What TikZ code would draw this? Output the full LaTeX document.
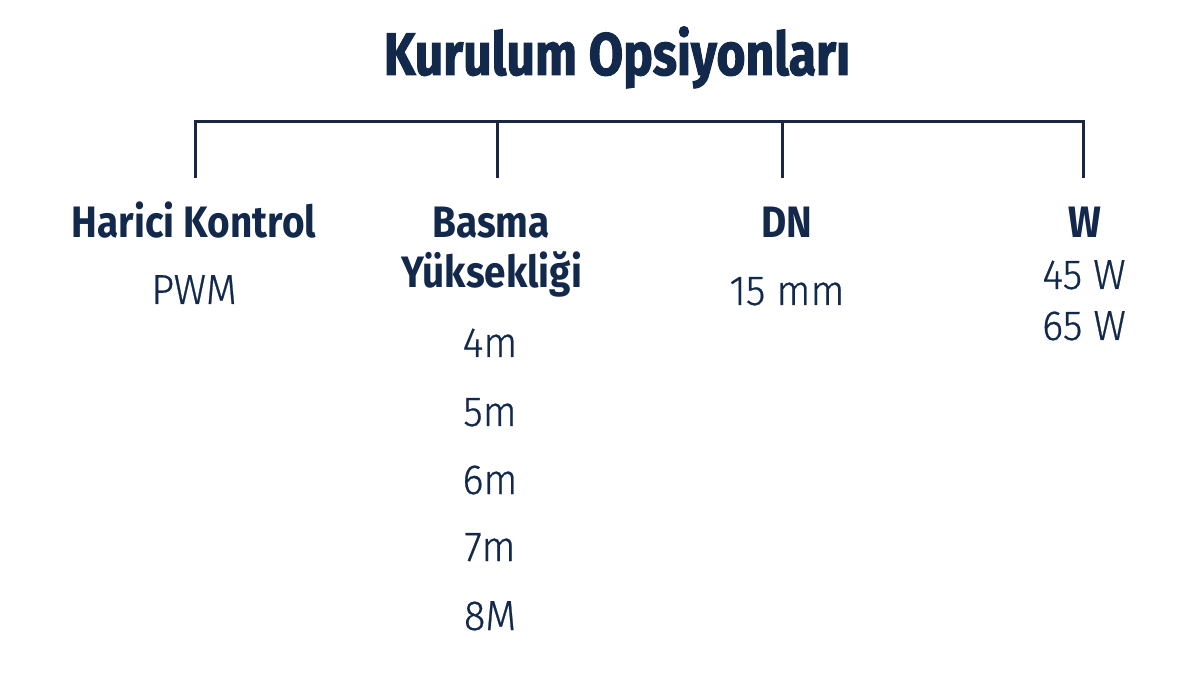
\documentclass[tikz,border=0pt]{standalone}
\usepackage{fontspec}
\setmainfont[FakeStretch=0.88]{Fira Sans}
\newfontfamily\titlefont[FakeStretch=0.83,FakeBold=1.6]{Fira Sans}
\newfontfamily\valfont[FakeStretch=0.95,FakeBold=0.6]{Fira Sans Light}
\definecolor{navy}{HTML}{13294B}
\definecolor{linec}{HTML}{1B2642}
\begin{document}
\begin{tikzpicture}[x=1pt,y=-1pt,
  title/.style={anchor=base,inner sep=0pt,text=navy,font=\titlefont\fontsize{60}{70}\selectfont\bfseries},
  head/.style={anchor=base,inner sep=0pt,text=navy,font=\fontsize{44}{50}\selectfont\bfseries},
  val/.style={anchor=base,inner sep=0pt,text=navy,font=\valfont\fontsize{42}{48}\selectfont},
  conn/.style={draw=linec,line width=3pt}]
\fill[white] (0,0) rectangle (1200,700);
\useasboundingbox (0,0) rectangle (1200,700);
\node[title] (t) at (617,75) {Kurulum Opsiyonları};
\coordinate (j1) at (195,122);
\coordinate (j2) at (497,122);
\coordinate (j3) at (782,122);
\coordinate (j4) at (1083,122);
\coordinate (e1) at (195,178);
\coordinate (e2) at (497,178);
\coordinate (e3) at (782,178);
\coordinate (e4) at (1083,178);
\draw[conn,line cap=rect] (j1) -- (j4);
\draw[conn] (j1) -- (e1);
\draw[conn] (j2) -- (e2);
\draw[conn] (j3) -- (e3);
\draw[conn] (j4) -- (e4);
\node[head] (h1) at (194,238) {Harici Kontrol};
\node[val] (v1) at (194,304) {PWM};
\node[head] (h2a) at (491,238) {Basma};
\node[head] (h2b) at (492,288) {Yüksekliği};
\node[val] (m4) at (490,357) {4m};
\node[val] (m5) at (490,426) {5m};
\node[val] (m6) at (490,494) {6m};
\node[val] (m7) at (490,561) {7m};
\node[val] (m8) at (490,630) {8M};
\node[head] (h3) at (787,238) {DN};
\node[val] (v3) at (787,305) {15 mm};
\node[head] (h4) at (1085,238) {W};
\node[val] (w45) at (1084,289) {45 W};
\node[val] (w65) at (1084,340) {65 W};
\end{tikzpicture}
\end{document}
